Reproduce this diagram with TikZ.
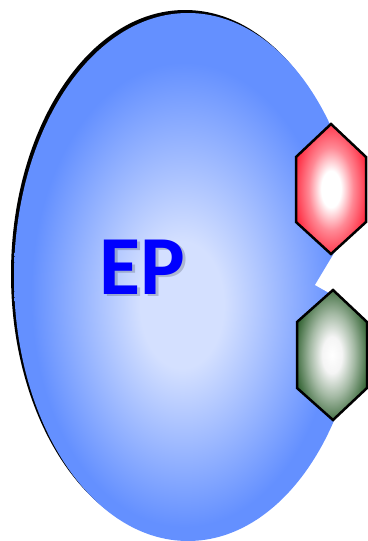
\documentclass[tikz,border=0pt]{standalone}
\usepackage{fontspec}
\newfontfamily\labelfont{Carlito}
\definecolor{epinner}{RGB}{212,224,255}
\definecolor{epouter}{RGB}{100,144,255}
\definecolor{redrim}{RGB}{255,40,62}
\definecolor{greenrim}{RGB}{52,100,52}
\pgfdeclareradialshading{epglow}{\pgfpoint{-1bp}{-3bp}}{%
  color(0bp)=(epinner); color(6bp)=(epinner); color(22bp)=(epouter); color(50bp)=(epouter)}
\pgfdeclareradialshading{redglow}{\pgfpoint{0bp}{0bp}}{%
  color(0bp)=(white); color(7bp)=(white); color(16bp)=(redrim!55!white); color(27bp)=(redrim); color(50bp)=(redrim)}
\pgfdeclareradialshading{greenglow}{\pgfpoint{0bp}{0bp}}{%
  color(0bp)=(white); color(7bp)=(white!96!black); color(16bp)=(greenrim!45!white); color(27bp)=(greenrim); color(50bp)=(greenrim)}
\tikzset{
  body/.style={shading=epglow},
  bodyshadow/.style={fill=black},
  gem/.style={draw=black, line width=2.5pt, line join=miter},
  redgem/.style={gem, shading=redglow},
  greengem/.style={gem, shading=greenglow},
  eplabel/.style={font=\labelfont\bfseries\fontsize{84}{84}\selectfont, anchor=base, inner sep=0pt}
}
\begin{document}
\begin{tikzpicture}[x=1pt,y=-1pt]
  \useasboundingbox (0,0) rectangle (367,541);
  % enzyme body with its dark edge shadow
  \fill[bodyshadow] (185,274) ellipse [x radius=174pt, y radius=264pt];
  \path[body] (188,277) ellipse [x radius=174pt, y radius=264pt];
  % cleft between the two binding sites
  \fill[white] (367,205) -- (336,250) -- (315,285) -- (331,294) -- (367,330) -- cycle;
  % binding sites
  \path[redgem] (331,124) -- (366,157) -- (366,222) -- (331,254) -- (296,222) -- (296,157) -- cycle;
  \path[greengem] (333,290) -- (367,322) -- (367,388) -- (333,420) -- (297,388) -- (297,322) -- cycle;
  % label with a soft drop shadow
  \node[eplabel, text=black, opacity=0.18] (epshadow) at (145,296.5) {EP};
  \node[eplabel, text=blue] (ep) at (142.5,294) {EP};
\end{tikzpicture}
\end{document}
